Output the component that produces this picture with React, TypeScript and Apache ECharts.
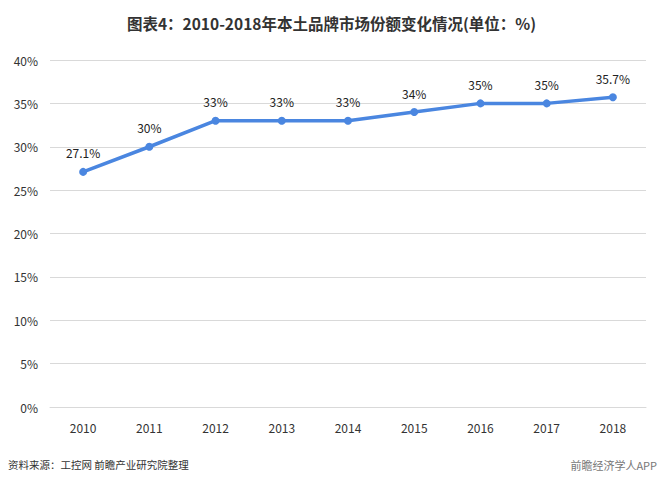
import React, { useEffect, useRef } from "react";
import * as echarts from "echarts";

const categories = ["2010", "2011", "2012", "2013", "2014", "2015", "2016", "2017", "2018"];
const values = [27.1, 30, 33, 33, 33, 34, 35, 35, 35.7];
const labels = ["27.1%", "30%", "33%", "33%", "33%", "34%", "35%", "35%", "35.7%"];

export default function App() {
  const ref = useRef<HTMLDivElement>(null);
  useEffect(() => {
    const chart = echarts.init(ref.current!, null, { renderer: "svg" });
    const font = "'Microsoft YaHei','Noto Sans CJK SC',sans-serif";
    chart.setOption({
      animation: false,
      title: {
        text: "图表4：2010-2018年本土品牌市场份额变化情况(单位：%)",
        left: "center",
        top: 10,
        textStyle: { fontSize: 15.5, fontWeight: "bold", color: "#333", fontFamily: font },
      },
      grid: { left: 50, right: 17, top: 60, bottom: 78 },
      xAxis: {
        type: "category",
        data: categories,
        boundaryGap: true,
        axisLine: { show: true, lineStyle: { color: "#d9d9d9" } },
        axisTick: { show: false },
        axisLabel: { color: "#333", fontSize: 12, margin: 14, fontFamily: font },
      },
      yAxis: {
        type: "value",
        min: 0,
        max: 40,
        interval: 5,
        axisLine: { show: false },
        axisTick: { show: false },
        splitLine: { lineStyle: { color: "#d9d9d9" } },
        axisLabel: { color: "#333", fontSize: 12, margin: 12, formatter: "{value}%", fontFamily: font },
      },
      series: [
        {
          type: "line",
          data: values,
          symbol: "circle",
          symbolSize: 8,
          lineStyle: { color: "#4a86e0", width: 3.5 },
          itemStyle: { color: "#4a86e0" },
          label: {
            show: true,
            position: "top",
            distance: 9,
            color: "#222",
            fontSize: 12,
            fontFamily: font,
            formatter: (p: any) => labels[p.dataIndex],
          },
        },
      ],
      graphic: [
        {
          type: "text",
          left: 8,
          top: 459,
          style: { text: "资料来源：工控网 前瞻产业研究院整理", fill: "#333", fontSize: 10.5, fontFamily: font },
        },
        {
          type: "text",
          right: 6,
          top: 459,
          style: { text: "前瞻经济学人APP", fill: "#777", fontSize: 11, fontFamily: font },
        },
      ],
    });
    return () => chart.dispose();
  }, []);
  return <div ref={ref} style={{ width: 663, height: 485, position: "absolute", left: 0, top: 0 }} />;
}
